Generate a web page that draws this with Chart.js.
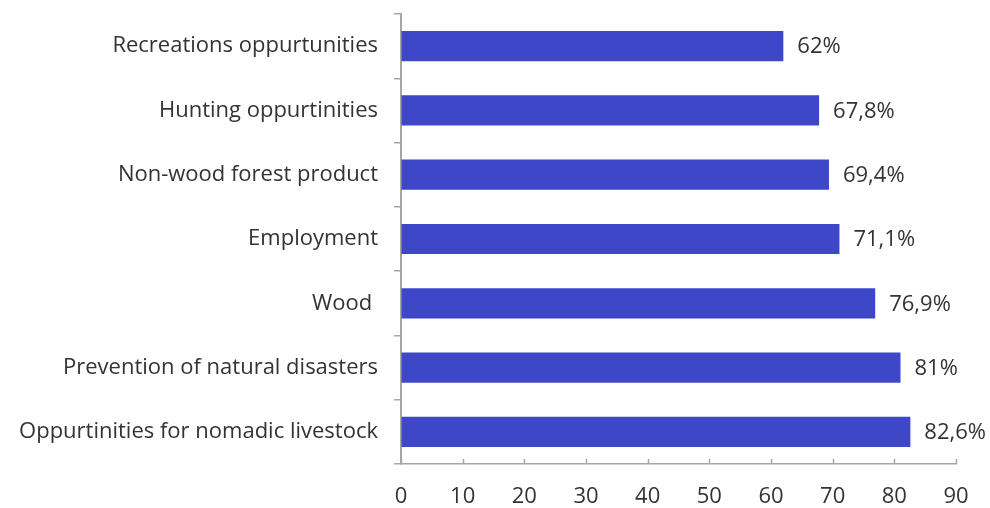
<!DOCTYPE html>
<html>
<head>
<meta charset="utf-8">
<script src="https://cdn.jsdelivr.net/npm/chart.js@4"></script>
<style>
  html, body { margin: 0; padding: 0; background: #fff; }
  #wrap { width: 990px; height: 508px; }
</style>
</head>
<body>
<div id="wrap"><canvas id="canvas" width="990" height="508"></canvas></div>
<script>
var categories = [
    'Recreations oppurtunities',
    'Hunting oppurtinities',
    'Non-wood forest product',
    'Employment',
    'Wood ',
    'Prevention of natural disasters',
    'Oppurtinities for nomadic livestock'
];
var values = [62, 67.8, 69.4, 71.1, 76.9, 81, 82.6];
var valueLabels = ['62%', '67,8%', '69,4%', '71,1%', '76,9%', '81%', '82,6%'];
var xTicks = [0, 10, 20, 30, 40, 50, 60, 70, 80, 90];

var textColor = '#333333';
var axisColor = '#a6a6a6';
var fontFamily = "'Open Sans', 'Noto Sans', sans-serif";

// value text at the end of each bar
var barLabels = {
    id: 'barLabels',
    afterDatasetsDraw: function(chart) {
        var ctx = chart.ctx;
        var meta = chart.getDatasetMeta(0);
        ctx.save();
        ctx.font = '22px ' + fontFamily;
        ctx.fillStyle = textColor;
        ctx.textBaseline = 'middle';
        ctx.textAlign = 'left';
        meta.data.forEach(function(bar, i) {
            ctx.fillText(valueLabels[i], bar.x + 14, bar.y + 1);
        });
        ctx.restore();
    }
};

// small upward ticks on the x axis line
var xTickMarks = {
    id: 'xTickMarks',
    afterDraw: function(chart) {
        var ctx = chart.ctx;
        var x = chart.scales.x;
        var y0 = chart.chartArea.bottom;
        ctx.save();
        ctx.strokeStyle = axisColor;
        ctx.lineWidth = 1.5;
        xTicks.forEach(function(v) {
            var px = Math.round(x.getPixelForValue(v)) + 0.5;
            ctx.beginPath();
            ctx.moveTo(px, y0);
            ctx.lineTo(px, y0 - 5);
            ctx.stroke();
        });
        ctx.restore();
    }
};

window.onload = function() {
    var ctx = document.getElementById('canvas').getContext('2d');
    new Chart(ctx, {
        type: 'bar',
        data: {
            labels: categories,
            datasets: [{
                data: values,
                backgroundColor: '#3f47c9',
                borderWidth: 0,
                barPercentage: 0.47,
                categoryPercentage: 1
            }]
        },
        options: {
            indexAxis: 'y',
            responsive: false,
            animation: false,
            layout: { padding: { top: 14, right: 34, left: 0, bottom: 0 } },
            plugins: {
                legend: { display: false },
                tooltip: { enabled: false }
            },
            scales: {
                x: {
                    min: 0,
                    max: 90,
                    afterBuildTicks: function(scale) {
                        scale.ticks = xTicks.map(function(v) { return { value: v }; });
                    },
                    grid: { display: true, drawOnChartArea: false, drawTicks: false },
                    border: { display: true, color: axisColor, width: 1.5 },
                    ticks: {
                        color: textColor,
                        font: { family: fontFamily, size: 22 },
                        padding: 20
                    },
                    afterFit: function(scale) { scale.height = 44; }
                },
                y: {
                    grid: { display: true, offset: true, drawOnChartArea: false, drawTicks: true, tickLength: 7, color: axisColor, lineWidth: 1.5 },
                    border: { display: true, color: axisColor, width: 2 },
                    ticks: {
                        color: textColor,
                        font: { family: fontFamily, size: 22 },
                        padding: 16
                    },
                    afterFit: function(scale) {
                        scale.width = 401;
                        scale.paddingTop = 0;
                        scale.paddingBottom = 0;
                    }
                }
            }
        },
        plugins: [barLabels, xTickMarks]
    });
};
</script>
</body>
</html>
